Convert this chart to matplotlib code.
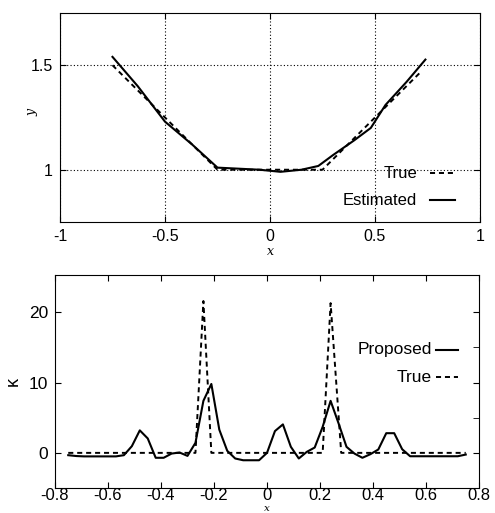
import numpy as np
import matplotlib
matplotlib.use("Agg")
import matplotlib.pyplot as plt

plt.rcParams['font.family'] = ['Liberation Sans', 'DejaVu Sans']
plt.rcParams['font.size'] = 11

# top panel: true and estimated curve y(x)
x_true = [-0.75, -0.25, 0.25, 0.72]
y_true = [1.5, 1.0, 1.0, 1.47]

x_est = [-0.75, -0.63, -0.5, -0.37, -0.25, -0.15, -0.05, 0.05, 0.15, 0.23,
         0.3, 0.4, 0.48, 0.55, 0.65, 0.74]
y_est = [1.54, 1.40, 1.23, 1.12, 1.01, 1.005, 1.0, 0.99, 1.0, 1.018,
         1.07, 1.14, 1.2, 1.31, 1.42, 1.527]

# bottom panel: curvature kappa
xk_true = [-0.75, -0.27, -0.24, -0.21, 0.21, 0.24, 0.28, 0.75]
k_true = [0, 0, 21.6, 0, 0, 21.3, 0, 0]

xk_prop = [-0.75, -0.72, -0.69, -0.66, -0.63, -0.60, -0.57, -0.54, -0.51, -0.48,
           -0.45, -0.42, -0.39, -0.36, -0.33, -0.30, -0.27, -0.24, -0.21, -0.18,
           -0.15, -0.12, -0.09, -0.06, -0.03, 0.0, 0.03, 0.06, 0.09, 0.12,
           0.15, 0.18, 0.21, 0.24, 0.27, 0.30, 0.33, 0.36, 0.39, 0.42,
           0.45, 0.48, 0.51, 0.54, 0.57, 0.60, 0.63, 0.66, 0.69, 0.72, 0.75]
k_prop = [-0.33, -0.45, -0.5, -0.5, -0.5, -0.5, -0.5, -0.33, 0.95, 3.2,
          2.05, -0.7, -0.7, -0.1, 0.05, -0.43, 1.43, 7.4, 9.8, 3.3,
          0.29, -0.8, -1.05, -1.05, -1.05, 0.0, 3.1, 4.05, 0.86, -0.8,
          0.14, 0.76, 3.7, 7.4, 4.2, 0.86, -0.1, -0.7, -0.19, 0.48,
          2.8, 2.8, 0.52, -0.48, -0.48, -0.48, -0.48, -0.48, -0.48, -0.48, -0.24]

DASH = (2.6, 2.0)

fig = plt.figure(figsize=(4.95, 5.13), dpi=100)

# ---- top panel
ax1 = fig.add_axes([0.1212, 0.5673, 0.8485, 0.4074])
ax1.plot(x_true, y_true, 'k--', lw=1.4, dashes=DASH)
ax1.plot(x_est, y_est, 'k-', lw=1.5)
ax1.set_xlim(-1, 1)
ax1.set_ylim(0.75, 1.75)
ax1.set_xticks([-1, -0.5, 0, 0.5, 1])
ax1.set_xticklabels(['-1', '-0.5', '0', '0.5', '1'])
ax1.set_yticks([1, 1.5])
ax1.set_yticklabels(['1', '1.5'])
ax1.grid(True, color='k', ls=(0, (1, 2)), lw=0.8)
ax1.tick_params(direction='in', top=True, right=True, length=4, labelsize=11.5)
ax1.tick_params(axis='x', pad=5)
ax1.tick_params(axis='y', pad=5)
ax1.set_xlabel('x', fontfamily='DejaVu Serif', fontstyle='italic', fontsize=9, va='center')
ax1.xaxis.set_label_coords(0.5, -0.142)
ax1.set_ylabel('y', fontfamily='DejaVu Serif', fontstyle='italic', fontsize=9, va='center')
ax1.yaxis.set_label_coords(-0.067, 0.526)

# legend drawn gnuplot style: text then sample line
ax1.text(0.85, 0.234, 'True', transform=ax1.transAxes, ha='right', va='center', fontsize=12)
ax1.plot([0.881, 0.94], [0.234, 0.234], 'k--', lw=1.4, dashes=DASH,
         transform=ax1.transAxes)
ax1.text(0.85, 0.105, 'Estimated', transform=ax1.transAxes, ha='right', va='center', fontsize=12)
ax1.plot([0.881, 0.94], [0.105, 0.105], 'k-', lw=1.5, transform=ax1.transAxes)

# ---- bottom panel
ax2 = fig.add_axes([0.1111, 0.0487, 0.8566, 0.4152])
ax2.plot(xk_prop, k_prop, 'k-', lw=1.5)
ax2.plot(xk_true, k_true, 'k--', lw=1.4, dashes=DASH)
ax2.set_xlim(-0.8, 0.8)
ax2.set_ylim(-5, 25.3)
ax2.set_xticks(np.arange(-0.8, 0.81, 0.2))
ax2.set_xticklabels(['-0.8', '-0.6', '-0.4', '-0.2', '0', '0.2', '0.4', '0.6', '0.8'])
ax2.set_yticks([0, 10, 20])
ax2.set_yticks([5, 15], minor=True)
ax2.tick_params(direction='in', top=True, right=True, length=4, labelsize=12.5)
ax2.tick_params(axis='x', labelsize=12, pad=0)
ax2.tick_params(axis='y', pad=5)
ax2.tick_params(which='minor', direction='in', left=False, right=True, length=4)
ax2.set_xlabel('x', fontfamily='DejaVu Serif', fontstyle='italic', fontsize=7.5, va='bottom')
ax2.xaxis.set_label_coords(0.5, -0.117)
ax2.set_ylabel('κ', fontsize=13, va='center')
ax2.yaxis.set_label_coords(-0.099, 0.502)

ax2.text(0.888, 0.648, 'Proposed', transform=ax2.transAxes, ha='right', va='center', fontsize=12.5)
ax2.plot([0.898, 0.95], [0.648, 0.648], 'k-', lw=1.5, transform=ax2.transAxes)
ax2.text(0.888, 0.52, 'True', transform=ax2.transAxes, ha='right', va='center', fontsize=12.5)
ax2.plot([0.898, 0.95], [0.52, 0.52], 'k--', lw=1.4, dashes=DASH,
         transform=ax2.transAxes)

fig.savefig('out.png', dpi=100)
